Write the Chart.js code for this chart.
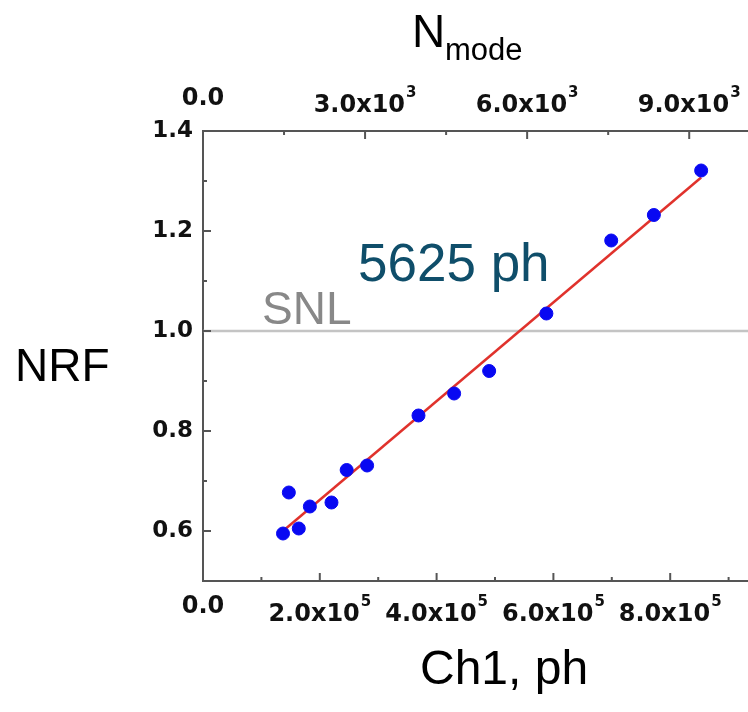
<!DOCTYPE html>
<html>
<head>
<meta charset="utf-8">
<script src="https://cdn.jsdelivr.net/npm/chart.js@4.4.1/dist/chart.umd.min.js"></script>
<style>
	html, body { margin: 0; padding: 0; overflow: hidden; background: #fff; }
	#wrap { position: absolute; left: 0; top: 0; width: 820px; height: 712px; }
</style>
</head>
<body>
<div id="wrap"><canvas id="nrf-chart" width="820" height="712"></canvas></div>
<script>
// measured points: Ch1 photons vs NRF
const CH1_PHOTONS = [1.37e5, 1.47e5, 1.64e5, 1.83e5, 2.20e5, 2.46e5, 2.81e5, 3.69e5, 4.30e5, 4.90e5, 5.88e5, 6.99e5, 7.72e5, 8.53e5];
const NRF_VALUES = [0.595, 0.677, 0.605, 0.649, 0.657, 0.722, 0.731, 0.831, 0.875, 0.920, 1.035, 1.181, 1.232, 1.321];
// linear fit
const FIT_CH1 = [1.40e5, 8.53e5];
const FIT_NRF = [0.603, 1.307];
const SNL_LEVEL = 1.0;
// ticks (all) and the labelled ones
const X_TICKS = [0, 1e5, 2e5, 3e5, 4e5, 5e5, 6e5, 7e5, 8e5, 9e5, 1e6];
const X_LABELED = [0, 2e5, 4e5, 6e5, 8e5];
const TOP_TICKS = [0, 1500, 3000, 4500, 6000, 7500, 9000, 10500];
const TOP_LABELED = [0, 3000, 6000, 9000];
const Y_TICKS = [0.5, 0.6, 0.7, 0.8, 0.9, 1.0, 1.1, 1.2, 1.3, 1.4];
const Y_LABELED = [0.6, 0.8, 1.0, 1.2, 1.4];

const COLORS = {
	axis: '#555555',
	tick_text: '#111111',
	point: '#0808f2',
	fit: '#e0322c',
	snl_line: '#c4c4c4',
	snl_text: '#888888',
	photons: '#0f4e6a',
};

const LABEL_FONT = 'bold 24px "DejaVu Sans"';
const SUP_FONT = 'bold 15px "DejaVu Sans"';
const isLabeled = (list, v, eps) => list.some(l => Math.abs(l - v) < eps);

function drawSciLabel(ctx, v, exp, x, y) {
	const text = v === 0 ? '0.0' : (v / Math.pow(10, exp)).toFixed(1) + 'x10';
	const sup = v === 0 ? '' : String(exp);
	ctx.font = LABEL_FONT;
	const w = ctx.measureText(text).width;
	ctx.font = SUP_FONT;
	const ws = sup ? ctx.measureText(sup).width + 1 : 0;
	const left = x - (w + ws) / 2;
	ctx.font = LABEL_FONT;
	ctx.fillText(text, left, y);
	if (sup) {
		ctx.font = SUP_FONT;
		ctx.fillText(sup, left + w + 1, y - 15);
	}
}

const decorations = {
	id: 'decorations',
	afterDraw(chart) {
		const ctx = chart.ctx;
		const area = chart.chartArea;
		ctx.save();

		//inward ticks
		ctx.strokeStyle = COLORS.axis;
		ctx.lineWidth = 2;
		const majors = { x: X_LABELED, x2: TOP_LABELED, y: Y_LABELED };
		['x', 'x2', 'y'].forEach(id => {
			const scale = chart.scales[id];
			scale.ticks.forEach(t => {
				const len = isLabeled(majors[id], t.value, 1e-6) ? 8 : 4;
				const p = scale.getPixelForValue(t.value);
				ctx.beginPath();
				if (id === 'y') {
					ctx.moveTo(area.left, p);
					ctx.lineTo(area.left + len, p);
				} else if (id === 'x') {
					ctx.moveTo(p, area.bottom);
					ctx.lineTo(p, area.bottom - len);
				} else {
					ctx.moveTo(p, area.top);
					ctx.lineTo(p, area.top + len);
				}
				ctx.stroke();
			});
		});

		//x tick labels with superscript exponent
		ctx.fillStyle = COLORS.tick_text;
		ctx.textAlign = 'left';
		ctx.textBaseline = 'alphabetic';
		X_LABELED.forEach(v => {
			const y = area.bottom + (v === 0 ? 32 : 40);
			drawSciLabel(ctx, v, 5, chart.scales.x.getPixelForValue(v), y);
		});
		TOP_LABELED.forEach(v => {
			const y = area.top - (v === 0 ? 26 : 19);
			drawSciLabel(ctx, v, 3, chart.scales.x2.getPixelForValue(v), y);
		});

		//titles and notes
		ctx.fillStyle = '#000';
		ctx.font = '46px "Liberation Sans"';
		ctx.fillText('NRF', 15, 381);
		ctx.font = '48px "Liberation Sans"';
		ctx.fillText('Ch1, ph', 420, 684);
		ctx.font = '46px "Liberation Sans"';
		ctx.fillText('N', 412, 47);
		ctx.font = '31px "Liberation Sans"';
		ctx.fillText('mode', 445, 60);

		ctx.fillStyle = COLORS.snl_text;
		ctx.font = '46px "Liberation Sans"';
		ctx.fillText('SNL', 262, 324);

		ctx.fillStyle = COLORS.photons;
		ctx.font = '53px "Liberation Sans"';
		ctx.fillText('5625 ph', 358, 281);
		ctx.restore();
	},
};

const ctx_nrf = document.getElementById('nrf-chart').getContext('2d');

const config_nrf = {
	type: 'scatter',
	data: {
		datasets: [
			{
				label: 'NRF',
				data: CH1_PHOTONS.map((x, i) => ({ x: x, y: NRF_VALUES[i] })),
				backgroundColor: COLORS.point,
				borderColor: COLORS.point,
				pointRadius: 6.5,
				order: 0,
			},
			{
				label: 'fit',
				type: 'line',
				data: FIT_CH1.map((x, i) => ({ x: x, y: FIT_NRF[i] })),
				borderColor: COLORS.fit,
				borderWidth: 2.5,
				pointRadius: 0,
				order: 1,
			},
			{
				label: 'SNL',
				type: 'line',
				data: [{ x: X_TICKS[0], y: SNL_LEVEL }, { x: X_TICKS[X_TICKS.length - 1], y: SNL_LEVEL }],
				borderColor: COLORS.snl_line,
				borderWidth: 2.5,
				pointRadius: 0,
				order: 2,
			},
		],
	},
	options: {
		responsive: false,
		animation: false,
		devicePixelRatio: 1,
		layout: { padding: { left: 0, top: 0, right: 33, bottom: 0 } },
		plugins: {
			legend: { display: false },
			tooltip: { enabled: false },
		},
		scales: {
			x: {
				type: 'linear',
				position: 'bottom',
				min: 0,
				max: 1e6,
				afterBuildTicks: s => { s.ticks = X_TICKS.map(v => ({ value: v })); },
				afterFit: s => { s.height = 131; },
				grid: { display: true, drawOnChartArea: false, drawTicks: false },
				border: { display: true, color: COLORS.axis, width: 2 },
				ticks: { display: false },
			},
			x2: {
				type: 'linear',
				position: 'top',
				min: 0,
				max: 10810,
				afterBuildTicks: s => { s.ticks = TOP_TICKS.map(v => ({ value: v })); },
				afterFit: s => { s.height = 131; },
				grid: { display: true, drawOnChartArea: false, drawTicks: false },
				border: { display: true, color: COLORS.axis, width: 2 },
				ticks: { display: false },
			},
			y: {
				type: 'linear',
				min: 0.5,
				max: 1.4,
				afterBuildTicks: s => { s.ticks = Y_TICKS.map(v => ({ value: v })); },
				afterFit: s => { s.width = 203; },
				grid: { display: true, drawOnChartArea: false, drawTicks: false },
				border: { display: true, color: COLORS.axis, width: 2 },
				ticks: {
					autoSkip: false,
					padding: 10,
					color: COLORS.tick_text,
					font: { family: 'DejaVu Sans', size: 23, weight: 'bold' },
					callback: v => (isLabeled(Y_LABELED, v, 1e-6) ? v.toFixed(1) : ''),
				},
			},
		},
	},
	plugins: [decorations],
};

new Chart(ctx_nrf, config_nrf);
</script>
</body>
</html>
